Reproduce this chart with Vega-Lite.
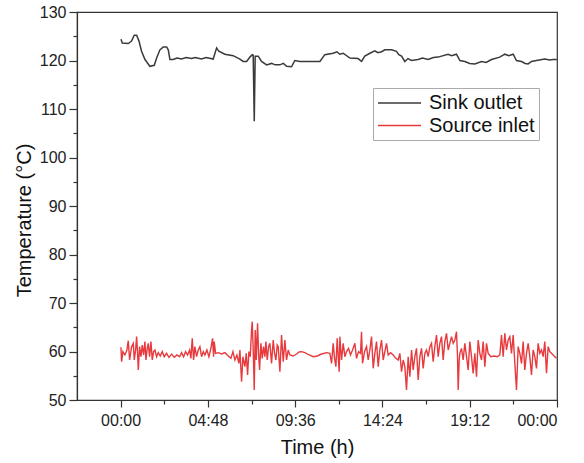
{
  "$schema": "https://vega.github.io/schema/vega-lite/v6.json",
  "width": 480,
  "height": 388,
  "autosize": {"type": "none"},
  "padding": {"left": 77, "top": 12, "right": 27, "bottom": 63},
  "background": "white",
  "config": {
    "view": {"stroke": "#333333", "strokeWidth": 1.2},
    "font": "Liberation Sans",
    "axis": {"domainColor": "#333333", "tickColor": "#333333", "labelColor": "#222222", "titleColor": "#111111", "grid": false, "labelFont": "Liberation Sans", "titleFont": "Liberation Sans", "titleFontWeight": "normal", "domainWidth": 1.2, "tickWidth": 1.2}
  },
  "datasets": {
    "sink": [
      {"h": 0.02, "T": 124.4}, {"h": 0.09, "T": 123.6}, {"h": 0.42, "T": 123.5}, {"h": 0.6, "T": 124.0},
      {"h": 0.75, "T": 125.2}, {"h": 0.88, "T": 125.2}, {"h": 1.01, "T": 124.0}, {"h": 1.15, "T": 121.9},
      {"h": 1.34, "T": 120.2}, {"h": 1.61, "T": 118.8}, {"h": 1.85, "T": 119.0}, {"h": 1.98, "T": 120.5},
      {"h": 2.16, "T": 122.2}, {"h": 2.34, "T": 122.8}, {"h": 2.53, "T": 122.8}, {"h": 2.62, "T": 122.2},
      {"h": 2.71, "T": 120.2}, {"h": 2.89, "T": 120.2}, {"h": 3.1, "T": 120.5}, {"h": 3.35, "T": 120.3},
      {"h": 3.6, "T": 120.6}, {"h": 3.9, "T": 120.4}, {"h": 4.1, "T": 120.6}, {"h": 4.45, "T": 120.3},
      {"h": 4.7, "T": 120.6}, {"h": 5.09, "T": 120.3}, {"h": 5.28, "T": 122.6}, {"h": 5.4, "T": 121.9},
      {"h": 5.73, "T": 121.3}, {"h": 6.19, "T": 121.0}, {"h": 6.4, "T": 120.6}, {"h": 6.56, "T": 120.3},
      {"h": 6.74, "T": 119.8}, {"h": 6.93, "T": 119.8}, {"h": 7.11, "T": 120.7}, {"h": 7.24, "T": 121.2},
      {"h": 7.29, "T": 121.1}, {"h": 7.35, "T": 107.5}, {"h": 7.4, "T": 120.9}, {"h": 7.57, "T": 120.9},
      {"h": 7.75, "T": 119.8}, {"h": 8.03, "T": 119.1}, {"h": 8.3, "T": 119.4}, {"h": 8.5, "T": 119.1},
      {"h": 8.76, "T": 119.1}, {"h": 8.95, "T": 119.4}, {"h": 9.13, "T": 118.8}, {"h": 9.4, "T": 118.7},
      {"h": 9.58, "T": 120.0}, {"h": 9.86, "T": 119.8}, {"h": 10.96, "T": 119.8}, {"h": 11.23, "T": 121.2},
      {"h": 11.69, "T": 121.5}, {"h": 11.9, "T": 121.8}, {"h": 12.05, "T": 121.3}, {"h": 12.24, "T": 121.5},
      {"h": 12.61, "T": 120.5}, {"h": 13.06, "T": 120.4}, {"h": 13.25, "T": 119.8}, {"h": 13.43, "T": 120.9},
      {"h": 13.71, "T": 121.5}, {"h": 13.98, "T": 122.0}, {"h": 14.15, "T": 121.6}, {"h": 14.35, "T": 121.8},
      {"h": 14.53, "T": 122.2}, {"h": 14.9, "T": 122.2}, {"h": 15.17, "T": 121.9}, {"h": 15.3, "T": 121.2},
      {"h": 15.45, "T": 120.9}, {"h": 15.63, "T": 119.8}, {"h": 15.8, "T": 120.4}, {"h": 16.0, "T": 120.0},
      {"h": 16.36, "T": 120.2}, {"h": 16.6, "T": 120.5}, {"h": 16.91, "T": 120.2}, {"h": 17.2, "T": 120.6},
      {"h": 17.46, "T": 120.7}, {"h": 18.01, "T": 121.3}, {"h": 18.2, "T": 121.0}, {"h": 18.47, "T": 121.3},
      {"h": 18.66, "T": 120.0}, {"h": 18.93, "T": 119.8}, {"h": 19.2, "T": 119.4}, {"h": 19.48, "T": 119.3},
      {"h": 19.85, "T": 119.8}, {"h": 20.1, "T": 119.6}, {"h": 20.4, "T": 120.2}, {"h": 20.85, "T": 120.7},
      {"h": 21.13, "T": 121.3}, {"h": 21.35, "T": 121.0}, {"h": 21.59, "T": 121.3}, {"h": 21.77, "T": 120.0},
      {"h": 22.05, "T": 119.8}, {"h": 22.25, "T": 119.4}, {"h": 22.41, "T": 119.3}, {"h": 22.6, "T": 119.8},
      {"h": 22.87, "T": 120.0}, {"h": 23.33, "T": 120.3}, {"h": 23.6, "T": 120.1}, {"h": 23.79, "T": 120.2},
      {"h": 23.99, "T": 120.2}
    ],
    "source": [
      {"h": 0.017, "T": 60.86}, {"h": 0.053, "T": 57.9}, {"h": 0.127, "T": 59.97}, {"h": 0.236, "T": 59.28},
      {"h": 0.346, "T": 60.31}, {"h": 0.42, "T": 62.23}, {"h": 0.493, "T": 58.25}, {"h": 0.603, "T": 61.0},
      {"h": 0.695, "T": 61.68}, {"h": 0.75, "T": 58.25}, {"h": 0.823, "T": 60.31}, {"h": 0.878, "T": 63.06},
      {"h": 0.933, "T": 59.62}, {"h": 0.97, "T": 56.19}, {"h": 1.043, "T": 61.0}, {"h": 1.116, "T": 58.93},
      {"h": 1.19, "T": 61.34}, {"h": 1.263, "T": 59.28}, {"h": 1.336, "T": 62.03}, {"h": 1.391, "T": 58.25},
      {"h": 1.464, "T": 60.65}, {"h": 1.519, "T": 61.68}, {"h": 1.593, "T": 58.93}, {"h": 1.666, "T": 62.03},
      {"h": 1.74, "T": 58.25}, {"h": 1.813, "T": 59.97}, {"h": 1.886, "T": 60.31}, {"h": 1.978, "T": 58.93},
      {"h": 2.069, "T": 59.76}, {"h": 2.179, "T": 59.07}, {"h": 2.289, "T": 59.97}, {"h": 2.399, "T": 58.93},
      {"h": 2.528, "T": 59.62}, {"h": 2.656, "T": 58.8}, {"h": 2.803, "T": 59.48}, {"h": 2.949, "T": 58.8},
      {"h": 3.096, "T": 59.28}, {"h": 3.242, "T": 58.93}, {"h": 3.352, "T": 59.76}, {"h": 3.462, "T": 58.93},
      {"h": 3.572, "T": 59.97}, {"h": 3.682, "T": 59.28}, {"h": 3.792, "T": 60.31}, {"h": 3.865, "T": 58.59},
      {"h": 3.939, "T": 62.71}, {"h": 4.012, "T": 58.25}, {"h": 4.085, "T": 61.0}, {"h": 4.177, "T": 58.93},
      {"h": 4.269, "T": 60.31}, {"h": 4.36, "T": 61.0}, {"h": 4.452, "T": 58.93}, {"h": 4.544, "T": 59.97},
      {"h": 4.635, "T": 59.28}, {"h": 4.745, "T": 60.31}, {"h": 4.855, "T": 58.93}, {"h": 4.965, "T": 60.65},
      {"h": 5.057, "T": 62.71}, {"h": 5.112, "T": 58.93}, {"h": 5.148, "T": 62.03}, {"h": 5.222, "T": 59.62},
      {"h": 5.368, "T": 59.76}, {"h": 5.552, "T": 59.48}, {"h": 5.735, "T": 59.76}, {"h": 5.918, "T": 59.07},
      {"h": 6.065, "T": 58.59}, {"h": 6.175, "T": 59.97}, {"h": 6.285, "T": 58.25}, {"h": 6.395, "T": 59.28},
      {"h": 6.505, "T": 57.56}, {"h": 6.56, "T": 60.31}, {"h": 6.651, "T": 53.78}, {"h": 6.725, "T": 58.93},
      {"h": 6.834, "T": 56.87}, {"h": 6.908, "T": 59.62}, {"h": 6.981, "T": 55.16}, {"h": 7.055, "T": 59.97},
      {"h": 7.128, "T": 58.93}, {"h": 7.201, "T": 64.43}, {"h": 7.238, "T": 66.15}, {"h": 7.293, "T": 60.31},
      {"h": 7.348, "T": 52.06}, {"h": 7.403, "T": 64.43}, {"h": 7.458, "T": 58.25}, {"h": 7.531, "T": 65.81},
      {"h": 7.586, "T": 59.62}, {"h": 7.641, "T": 56.19}, {"h": 7.715, "T": 61.68}, {"h": 7.788, "T": 58.59},
      {"h": 7.861, "T": 61.0}, {"h": 7.934, "T": 58.93}, {"h": 7.989, "T": 62.03}, {"h": 8.062, "T": 58.25},
      {"h": 8.136, "T": 61.0}, {"h": 8.209, "T": 61.68}, {"h": 8.3, "T": 57.56}, {"h": 8.392, "T": 62.37},
      {"h": 8.465, "T": 59.62}, {"h": 8.539, "T": 58.25}, {"h": 8.612, "T": 61.34}, {"h": 8.667, "T": 61.0},
      {"h": 8.759, "T": 55.84}, {"h": 8.85, "T": 63.4}, {"h": 8.942, "T": 57.9}, {"h": 9.034, "T": 62.37},
      {"h": 9.125, "T": 58.25}, {"h": 9.217, "T": 60.31}, {"h": 9.309, "T": 59.28}, {"h": 9.492, "T": 59.07},
      {"h": 9.675, "T": 59.48}, {"h": 9.822, "T": 59.9}, {"h": 9.95, "T": 59.97}, {"h": 10.133, "T": 59.76},
      {"h": 10.371, "T": 59.28}, {"h": 10.592, "T": 58.93}, {"h": 10.811, "T": 59.07}, {"h": 11.05, "T": 59.48},
      {"h": 11.325, "T": 59.76}, {"h": 11.508, "T": 59.62}, {"h": 11.6, "T": 57.56}, {"h": 11.691, "T": 61.68},
      {"h": 11.764, "T": 58.59}, {"h": 11.838, "T": 56.87}, {"h": 11.911, "T": 62.71}, {"h": 11.966, "T": 58.93},
      {"h": 12.021, "T": 55.84}, {"h": 12.058, "T": 63.06}, {"h": 12.149, "T": 58.25}, {"h": 12.241, "T": 61.68},
      {"h": 12.333, "T": 58.93}, {"h": 12.424, "T": 59.97}, {"h": 12.534, "T": 60.65}, {"h": 12.644, "T": 59.28},
      {"h": 12.754, "T": 60.31}, {"h": 12.882, "T": 61.68}, {"h": 12.974, "T": 58.59}, {"h": 13.084, "T": 59.97},
      {"h": 13.194, "T": 59.62}, {"h": 13.249, "T": 64.09}, {"h": 13.304, "T": 57.56}, {"h": 13.414, "T": 59.97},
      {"h": 13.524, "T": 61.0}, {"h": 13.616, "T": 58.25}, {"h": 13.707, "T": 60.31}, {"h": 13.799, "T": 63.06},
      {"h": 13.891, "T": 56.53}, {"h": 13.982, "T": 59.62}, {"h": 14.074, "T": 62.03}, {"h": 14.165, "T": 56.87},
      {"h": 14.257, "T": 60.31}, {"h": 14.349, "T": 62.37}, {"h": 14.44, "T": 58.25}, {"h": 14.532, "T": 59.97},
      {"h": 14.624, "T": 61.68}, {"h": 14.715, "T": 59.28}, {"h": 14.844, "T": 59.76}, {"h": 14.99, "T": 59.28},
      {"h": 15.137, "T": 58.59}, {"h": 15.265, "T": 58.25}, {"h": 15.357, "T": 59.62}, {"h": 15.449, "T": 55.84},
      {"h": 15.54, "T": 58.25}, {"h": 15.632, "T": 56.87}, {"h": 15.723, "T": 52.06}, {"h": 15.815, "T": 58.93},
      {"h": 15.907, "T": 54.81}, {"h": 15.999, "T": 60.31}, {"h": 16.09, "T": 56.19}, {"h": 16.182, "T": 58.93},
      {"h": 16.273, "T": 60.65}, {"h": 16.365, "T": 54.12}, {"h": 16.457, "T": 58.93}, {"h": 16.548, "T": 60.65},
      {"h": 16.64, "T": 56.53}, {"h": 16.732, "T": 59.62}, {"h": 16.823, "T": 60.31}, {"h": 16.915, "T": 58.93},
      {"h": 17.007, "T": 61.0}, {"h": 17.098, "T": 61.68}, {"h": 17.19, "T": 57.9}, {"h": 17.282, "T": 61.0},
      {"h": 17.373, "T": 63.4}, {"h": 17.465, "T": 58.93}, {"h": 17.556, "T": 61.68}, {"h": 17.648, "T": 63.06},
      {"h": 17.74, "T": 58.25}, {"h": 17.831, "T": 62.03}, {"h": 17.923, "T": 63.75}, {"h": 18.015, "T": 60.31},
      {"h": 18.106, "T": 61.68}, {"h": 18.198, "T": 63.06}, {"h": 18.29, "T": 61.68}, {"h": 18.381, "T": 62.37},
      {"h": 18.473, "T": 64.09}, {"h": 18.528, "T": 58.93}, {"h": 18.565, "T": 52.06}, {"h": 18.62, "T": 58.25},
      {"h": 18.656, "T": 59.62}, {"h": 18.748, "T": 60.65}, {"h": 18.839, "T": 58.25}, {"h": 18.931, "T": 61.68},
      {"h": 19.023, "T": 58.93}, {"h": 19.114, "T": 56.19}, {"h": 19.206, "T": 62.03}, {"h": 19.298, "T": 58.93},
      {"h": 19.389, "T": 55.5}, {"h": 19.481, "T": 59.62}, {"h": 19.573, "T": 54.81}, {"h": 19.664, "T": 62.37},
      {"h": 19.756, "T": 59.62}, {"h": 19.848, "T": 58.25}, {"h": 19.939, "T": 62.03}, {"h": 20.031, "T": 56.87},
      {"h": 20.122, "T": 61.68}, {"h": 20.214, "T": 59.62}, {"h": 20.361, "T": 58.93}, {"h": 20.545, "T": 59.07},
      {"h": 20.727, "T": 58.93}, {"h": 20.855, "T": 59.28}, {"h": 20.947, "T": 63.4}, {"h": 21.039, "T": 58.93},
      {"h": 21.13, "T": 63.75}, {"h": 21.222, "T": 60.31}, {"h": 21.314, "T": 62.37}, {"h": 21.405, "T": 63.06},
      {"h": 21.497, "T": 59.62}, {"h": 21.589, "T": 63.4}, {"h": 21.68, "T": 57.56}, {"h": 21.772, "T": 52.06},
      {"h": 21.864, "T": 61.0}, {"h": 21.955, "T": 59.62}, {"h": 22.047, "T": 57.56}, {"h": 22.139, "T": 62.03},
      {"h": 22.23, "T": 56.19}, {"h": 22.322, "T": 59.62}, {"h": 22.414, "T": 61.68}, {"h": 22.505, "T": 58.93},
      {"h": 22.597, "T": 55.16}, {"h": 22.688, "T": 60.31}, {"h": 22.78, "T": 58.93}, {"h": 22.872, "T": 56.53},
      {"h": 22.963, "T": 61.68}, {"h": 23.055, "T": 59.62}, {"h": 23.147, "T": 60.31}, {"h": 23.238, "T": 58.93},
      {"h": 23.33, "T": 62.03}, {"h": 23.422, "T": 55.5}, {"h": 23.513, "T": 61.0}, {"h": 23.605, "T": 59.97},
      {"h": 23.697, "T": 59.62}, {"h": 23.788, "T": 59.28}, {"h": 23.88, "T": 58.93}, {"h": 23.972, "T": 58.59}
    ]
  },
  "encoding": {
    "x": {
      "field": "h", "type": "quantitative",
      "scale": {"domain": [-2.4, 24], "nice": false, "zero": false},
      "axis": {
        "title": "Time (h)", "titleFontSize": 20, "titlePadding": 9,
        "values": [0, 2.4, 4.8, 7.2, 9.6, 12, 14.4, 16.8, 19.2, 21.6, 24],
        "labelExpr": "round(datum.value*10) % 48 != 0 ? '' : (datum.value >= 24 ? '00:00' : (floor(datum.value) < 10 ? '0' : '') + floor(datum.value) + ':' + (round((datum.value - floor(datum.value))*60) < 10 ? '0' : '') + round((datum.value - floor(datum.value))*60))",
        "labelFontSize": 16, "labelPadding": 5, "labelOverlap": false, "labelBound": false,
        "tickSize": {"condition": {"test": "round(datum.value*10) % 48 != 0", "value": 4}, "value": 7}
      }
    },
    "y": {
      "field": "T", "type": "quantitative",
      "scale": {"domain": [50, 130], "nice": false, "zero": false},
      "axis": {
        "title": "Temperature (°C)", "titleFontSize": 20, "titlePadding": 5, "titleY": 208, "titleAlign": "center",
        "values": [50, 55, 60, 65, 70, 75, 80, 85, 90, 95, 100, 105, 110, 115, 120, 125, 130],
        "labelExpr": "datum.value % 10 == 0 ? datum.value : ''",
        "labelFontSize": 16, "labelPadding": 3, "labelOverlap": false, "labelBound": false,
        "tickSize": {"condition": {"test": "datum.value % 10 != 0", "value": 4}, "value": 8}
      }
    },
    "color": {
      "field": "s", "type": "nominal",
      "scale": {"domain": ["Sink outlet", "Source inlet"], "range": ["#3a3a3a", "#e8393d"]},
      "legend": {
        "title": null, "orient": "none", "legendX": 296, "legendY": 76,
        "symbolType": "M-2.15,0H2.15", "symbolSize": 400, "symbolStrokeWidth": 1.5, "symbolFillColor": "transparent", "symbolOffset": 11.5,
        "labelFontSize": 20, "labelColor": "#111111", "labelFont": "Liberation Sans", "labelOffset": 18.5,
        "rowPadding": 1.5, "padding": 4, "strokeColor": "#aaaaaa", "fillColor": "white", "labelLimit": 220
      }
    }
  },
  "layer": [
    {
      "data": {"name": "sink"},
      "transform": [{"calculate": "'Sink outlet'", "as": "s"}],
      "mark": {"type": "line", "strokeWidth": 1.5, "clip": true}
    },
    {
      "data": {"name": "source"},
      "transform": [{"calculate": "'Source inlet'", "as": "s"}],
      "mark": {"type": "line", "strokeWidth": 1.4, "clip": true}
    }
  ]
}
